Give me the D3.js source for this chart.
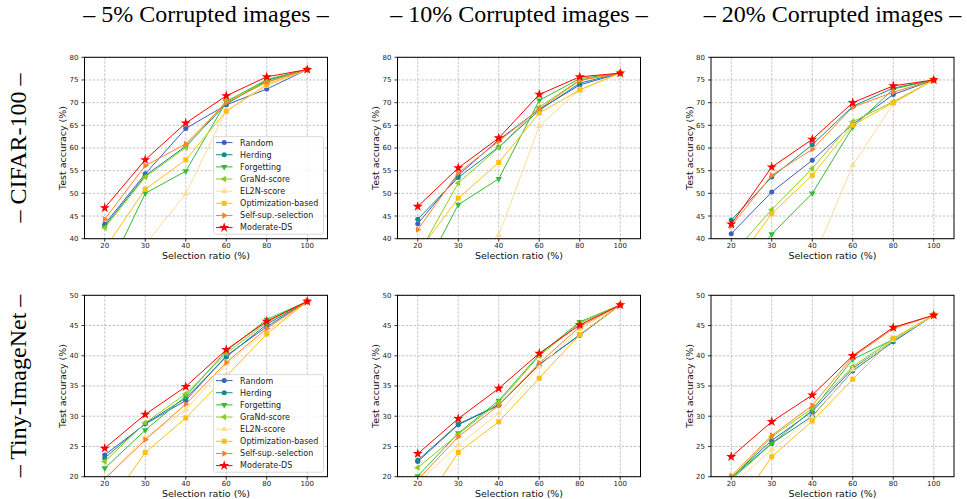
<!DOCTYPE html>
<html>
<head>
<meta charset="utf-8">
<script src="https://cdn.jsdelivr.net/npm/d3@7"></script>
<style>
  body { margin: 0; background: #fff; }
  svg { display: block; }
  .tick-label { font-family: "DejaVu Sans", sans-serif; font-size: 7px; fill: #222; }
  .axis-label { font-family: "DejaVu Sans", sans-serif; font-size: 9.5px; fill: #111; }
  .legend-text { font-family: "DejaVu Sans", sans-serif; font-size: 8px; fill: #222; }
  .big-title { font-family: "Liberation Serif", "Times New Roman", serif; font-size: 24px; fill: #000; }
</style>
</head>
<body>
<svg width="967" height="499"></svg>
<script>
const ratios = [20, 30, 40, 60, 80, 100];
const methods = ['Random', 'Herding', 'Forgetting', 'GraNd-score', 'EL2N-score',
    'Optimization-based', 'Self-sup.-selection', 'Moderate-DS'];
const methodColors = ['#3f5fbf', '#14898a', '#33bb33', '#8ccc1c', '#fddc9a',
    '#fcc010', '#fa8228', '#ff0000'];
const colTitles = ['– 5% Corrupted images –', '– 10% Corrupted images –', '– 20% Corrupted images –'];
const rowTitles = ['– CIFAR-100 –', '– Tiny-ImageNet –'];
const cifarTicks = [40, 45, 50, 55, 60, 65, 70, 75, 80];
const tinyTicks = [20, 25, 30, 35, 40, 45, 50];

// one row per method, in the order of `methods`
const cifar5 = [
    [43.2, 54.3, 64.3, 69.5, 73.0, 77.3],
    [42.8, 53.9, 60.4, 69.7, 74.9, 77.3],
    [31.4, 50.0, 54.9, 70.2, 75.1, 77.3],
    [42.4, 53.6, 60.1, 70.4, 74.6, 77.3],
    [30.0, 38.7, 49.9, 68.3, 73.7, 77.3],
    [37.8, 50.9, 57.4, 68.1, 74.0, 77.3],
    [44.3, 56.1, 60.9, 70.0, 74.5, 77.3],
    [46.8, 57.4, 65.5, 71.5, 75.7, 77.3]
];
const cifar10 = [
    [43.3, 54.0, 61.8, 68.5, 73.9, 76.5],
    [44.3, 53.5, 60.2, 68.3, 74.3, 76.5],
    [30.3, 47.5, 53.2, 70.5, 75.3, 76.5],
    [36.3, 52.3, 60.1, 69.0, 75.0, 76.5],
    [25.0, 33.0, 40.8, 64.8, 72.9, 76.5],
    [37.0, 48.9, 56.8, 67.7, 72.8, 76.5],
    [42.0, 54.5, 61.5, 68.6, 74.9, 76.5],
    [47.1, 55.6, 62.2, 71.8, 75.7, 76.5]
];
const cifar20 = [
    [41.1, 50.3, 57.3, 65.2, 71.8, 75.0],
    [44.1, 53.6, 60.7, 69.2, 73.2, 75.0],
    [30.0, 41.0, 50.0, 64.6, 73.0, 75.0],
    [36.4, 46.4, 55.5, 65.8, 70.2, 75.0],
    [25.0, 30.0, 34.9, 56.2, 69.8, 75.0],
    [33.3, 45.5, 54.0, 65.0, 70.0, 75.0],
    [42.8, 54.0, 59.7, 69.0, 72.3, 75.0],
    [43.2, 55.8, 61.9, 70.0, 73.7, 75.0]
];
const tiny5 = [
    [23.6, 28.7, 32.6, 40.0, 44.8, 49.0],
    [23.1, 28.8, 33.0, 39.8, 45.2, 49.0],
    [21.4, 27.7, 33.3, 40.8, 46.0, 49.0],
    [22.5, 28.9, 33.7, 40.4, 45.5, 49.0],
    [19.8, 26.5, 31.1, 38.6, 44.0, 49.0],
    [14.5, 24.0, 29.7, 36.6, 43.6, 49.0],
    [19.6, 26.1, 32.0, 38.9, 44.5, 49.0],
    [24.7, 30.3, 34.9, 41.0, 45.7, 49.0]
];
const tiny10 = [
    [22.5, 28.6, 31.8, 38.6, 43.4, 48.4],
    [22.7, 28.7, 31.9, 38.5, 43.5, 48.4],
    [20.1, 27.2, 32.6, 40.2, 45.6, 48.4],
    [21.5, 27.0, 32.3, 40.0, 45.4, 48.4],
    [19.0, 25.2, 30.5, 38.2, 44.4, 48.4],
    [13.9, 24.0, 29.1, 36.3, 43.5, 48.4],
    [19.5, 26.6, 31.8, 38.8, 44.8, 48.4],
    [23.8, 29.6, 34.6, 40.4, 45.1, 48.4]
];
const tiny20 = [
    [19.9, 26.0, 30.8, 37.9, 42.5, 46.7],
    [19.8, 25.5, 30.0, 37.5, 42.3, 46.7],
    [19.5, 25.5, 31.0, 39.4, 42.7, 46.7],
    [19.8, 26.6, 31.3, 38.2, 42.8, 46.7],
    [18.5, 24.5, 29.8, 37.7, 42.6, 46.7],
    [13.6, 23.3, 29.2, 36.1, 42.9, 46.7],
    [20.1, 26.8, 31.8, 39.8, 44.5, 46.7],
    [23.3, 29.1, 33.5, 40.0, 44.7, 46.7]
];

const svg = d3.select("svg");
const panelW = 243, panelH = 181.4;
const colX = [84.5, 397.5, 711];
const rowY = [57.3, 295.3];

// marker shape + rotation per method
const markerDefs = [
    { type: d3.symbolCircle, size: 20, rot: 0 },
    { type: d3.symbolCircle, size: 20, rot: 0 },
    { type: d3.symbolTriangle, size: 18, rot: 180 },
    { type: d3.symbolTriangle, size: 18, rot: -90 },
    { type: d3.symbolTriangle, size: 18, rot: 0 },
    { type: d3.symbolSquare, size: 25, rot: 0 },
    { type: d3.symbolTriangle, size: 18, rot: 90 },
    { type: d3.symbolStar, size: 32, rot: 0 }
];

const drawMarker = (g, i, cx, cy) => {
    const m = markerDefs[i];
    g.append("path")
        .attr("d", d3.symbol().type(m.type).size(m.size)())
        .attr("transform", `translate(${cx},${cy}) rotate(${m.rot})`)
        .attr("fill", methodColors[i]);
};

let clipId = 0;
const drawPanel = (px, py, values, yTicks, showLegend) => {
    const g = svg.append("g").attr("transform", `translate(${px},${py})`);
    const x = d3.scalePoint().domain(ratios).range([0, panelW]).padding(0.5);
    const y = d3.scaleLinear().domain([yTicks[0], yTicks[yTicks.length - 1]]).range([panelH, 0]);

    // grid
    g.selectAll(".gx").data(ratios).enter().append("line")
        .attr("x1", d => x(d)).attr("x2", d => x(d))
        .attr("y1", 0).attr("y2", panelH)
        .attr("stroke", "#b4b4b4").attr("stroke-width", 0.8).attr("stroke-dasharray", "2.5,1.5");
    g.selectAll(".gy").data(yTicks).enter().append("line")
        .attr("x1", 0).attr("x2", panelW)
        .attr("y1", d => y(d)).attr("y2", d => y(d))
        .attr("stroke", "#b4b4b4").attr("stroke-width", 0.8).attr("stroke-dasharray", "2.5,1.5");

    // ticks
    g.selectAll(".tx").data(ratios).enter().append("line")
        .attr("x1", d => x(d)).attr("x2", d => x(d))
        .attr("y1", panelH).attr("y2", panelH + 3)
        .attr("stroke", "#000").attr("stroke-width", 0.8);
    g.selectAll(".ty").data(yTicks).enter().append("line")
        .attr("x1", -3).attr("x2", 0)
        .attr("y1", d => y(d)).attr("y2", d => y(d))
        .attr("stroke", "#000").attr("stroke-width", 0.8);
    g.selectAll(".lx").data(ratios).enter().append("text")
        .attr("class", "tick-label")
        .attr("x", d => x(d)).attr("y", panelH + 9.8)
        .attr("text-anchor", "middle").text(d => d);
    g.selectAll(".ly").data(yTicks).enter().append("text")
        .attr("class", "tick-label")
        .attr("x", -6).attr("y", d => y(d) + 2.5)
        .attr("text-anchor", "end").text(d => d);

    // axis labels
    g.append("text").attr("class", "axis-label")
        .attr("x", panelW / 2).attr("y", panelH + 20.5)
        .attr("text-anchor", "middle").text("Selection ratio (%)");
    g.append("text").attr("class", "axis-label")
        .attr("transform", `translate(-18.5,${panelH / 2}) rotate(-90)`)
        .attr("text-anchor", "middle").text("Test accuracy (%)");

    // series, clipped to the axes box
    const id = "clip" + (clipId++);
    g.append("clipPath").attr("id", id)
        .append("rect").attr("width", panelW).attr("height", panelH);
    const plot = g.append("g").attr("clip-path", `url(#${id})`);
    const line = d3.line().x((d, i) => x(ratios[i])).y(d => y(d));
    values.forEach((vals, i) => {
        const s = plot.append("g");
        s.append("path").attr("d", line(vals))
            .attr("fill", "none").attr("stroke", methodColors[i]).attr("stroke-width", 1);
        vals.forEach((v, j) => drawMarker(s, i, x(ratios[j]), y(v)));
    });

    // frame
    g.append("rect").attr("width", panelW).attr("height", panelH)
        .attr("fill", "none").attr("stroke", "#000").attr("stroke-width", 1);

    if (showLegend) {
        const lw = 110, lh = 97.6;
        const lg = g.append("g").attr("transform", `translate(${panelW - 4 - lw},${panelH - 4.5 - lh})`);
        lg.append("rect").attr("width", lw).attr("height", lh).attr("rx", 2)
            .attr("fill", "#fff").attr("fill-opacity", 0.85)
            .attr("stroke", "#d0d0d0").attr("stroke-width", 0.8);
        const item = lg.selectAll(".item").data(methods).enter().append("g")
            .attr("transform", (d, i) => `translate(0,${6 + i * 12.14})`);
        item.append("line").attr("x1", 2.5).attr("x2", 19)
            .attr("stroke", (d, i) => methodColors[i]).attr("stroke-width", 1);
        item.each(function (d, i) { drawMarker(d3.select(this), i, 10.7, 0); });
        item.append("text").attr("class", "legend-text")
            .attr("x", 26.6).attr("y", 2.9).text(d => d);
    }
};

const panels = [[cifar5, cifar10, cifar20], [tiny5, tiny10, tiny20]];
const rowTicks = [cifarTicks, tinyTicks];
panels.forEach((row, r) => {
    row.forEach((vals, c) => drawPanel(colX[c], rowY[r], vals, rowTicks[r], c === 0));
});

colTitles.forEach((t, c) => {
    svg.append("text").attr("class", "big-title")
        .attr("x", colX[c] + panelW / 2).attr("y", 22)
        .attr("text-anchor", "middle").text(t);
});
rowTitles.forEach((t, r) => {
    svg.append("text").attr("class", "big-title")
        .attr("transform", `translate(26,${rowY[r] + panelH / 2}) rotate(-90)`)
        .attr("text-anchor", "middle").text(t);
});
</script>
</body>
</html>
